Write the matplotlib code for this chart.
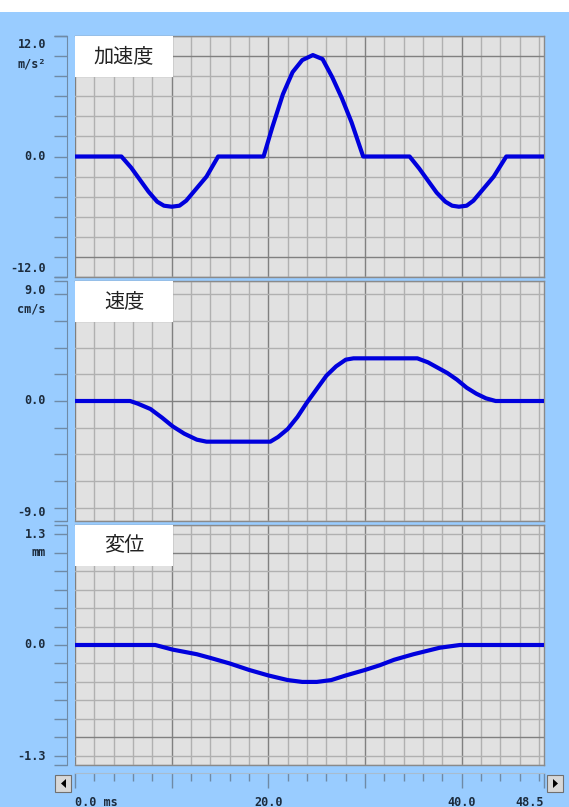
import matplotlib
matplotlib.use("Agg")
import matplotlib.pyplot as plt
from matplotlib.patches import Rectangle, Polygon
from matplotlib.ticker import MultipleLocator, FixedLocator

# ---------------- data ----------------
acc_t = [0, 4.8, 5.8, 6.7, 7.6, 8.5, 9.2, 10.0, 10.8, 11.5, 12.2, 13.6, 14.8,
         19.5, 20.4, 21.5, 22.5, 23.5, 24.6, 25.6, 26.6, 27.6, 28.6, 29.8,
         34.6, 35.6, 36.5, 37.4, 38.3, 39.0, 39.7, 40.5, 41.2, 41.9, 43.3, 44.6, 48.5]
acc_v = [0, 0, -1.1, -2.3, -3.5, -4.5, -4.9, -5.0, -4.9, -4.4, -3.6, -2.0, 0,
         0, 2.9, 6.2, 8.4, 9.6, 10.1, 9.7, 7.9, 5.8, 3.4, 0,
         0, -1.2, -2.4, -3.6, -4.5, -4.9, -5.0, -4.9, -4.4, -3.6, -2.0, 0, 0]

vel_t = [0, 5.7, 6.5, 7.8, 9.0, 10.1, 11.3, 12.6, 13.6, 14.5, 20.2, 21, 22, 23, 24,
         25, 26, 27, 28, 28.8, 35.4, 36.5, 37.5, 38.5, 39.5, 40.5, 41.5, 42.5, 43.5, 48.5]
vel_v = [0, 0, -0.2, -0.6, -1.25, -1.9, -2.45, -2.9, -3.05, -3.05, -3.05, -2.7, -2.1,
         -1.2, -0.1, 0.9, 1.9, 2.6, 3.1, 3.2, 3.2, 2.9, 2.5, 2.1, 1.6, 1.0, 0.55, 0.2, 0, 0]

disp_t = [0, 8.3, 10.1, 12.6, 14, 16, 18, 20, 22, 23.5, 25, 26.5, 28, 30, 31.5,
          33, 35, 37.7, 39.8, 48.5]
disp_v = [0, 0, -0.05, -0.10, -0.14, -0.20, -0.27, -0.33, -0.38, -0.40, -0.40,
          -0.38, -0.33, -0.27, -0.22, -0.16, -0.10, -0.03, 0, 0]

titles = ["加速度", "速度", "変位"]
units = ["m/s²", "cm/s", "mm"]
ylims = [12.0, 9.0, 1.3]
top_labels = ["12.0", "9.0", "1.3"]
bot_labels = ["-12.0", "-9.0", "-1.3"]
x_max = 48.5
x_labels = ["0.0 ms", "20.0", "40.0", "48.5"]
x_label_pos = [0, 20, 40, 48.5]

# ---------------- style ----------------
W, H = 569, 807
BG = "#99ccff"
PANEL = "#e1e1e1"
GRID_MINOR = "#b0b0b0"
GRID_MAJOR = "#808080"
LINE = "#0000dd"
TXT = "#1c2b3c"
AXC = "#6f8aa6"

fig = plt.figure(figsize=(W / 100, H / 100), dpi=100)
fig.patch.set_facecolor(BG)
fig.patches.append(Rectangle((0, 1 - 12 / H), 1, 12 / H, transform=fig.transFigure,
                             facecolor="white", edgecolor="none", zorder=0))


def px_axes(x0, y0, x1, y1):
    return fig.add_axes([x0 / W, 1 - y1 / H, (x1 - x0) / W, (y1 - y0) / H])


X0, X1 = 75, 544
panels = [(36, 277), (281, 521), (525, 765)]
series = [(acc_t, acc_v), (vel_t, vel_v), (disp_t, disp_v)]
minor_steps = [2.0, 2.0, 0.2]
major_steps = [10.0, 10.0, 1.0]

for i, (y0, y1) in enumerate(panels):
    ax = px_axes(X0, y0, X1, y1)
    ax.set_facecolor(PANEL)
    lim = ylims[i]
    ax.set_xlim(0, x_max)
    ax.set_ylim(-lim, lim)
    # grid
    ax.xaxis.set_major_locator(MultipleLocator(10))
    ax.xaxis.set_minor_locator(MultipleLocator(2))
    ms, Ms = minor_steps[i], major_steps[i]
    n = int(round(lim / ms))
    allv = [round(k * ms, 4) for k in range(-n, n + 1) if abs(k * ms) <= lim + 1e-9]
    majors = [v for v in allv if abs(round(v / Ms) * Ms - v) < 1e-6]
    minors = [v for v in allv if v not in majors] + [-lim, lim]
    ax.yaxis.set_major_locator(FixedLocator(majors))
    ax.yaxis.set_minor_locator(FixedLocator(minors))
    ax.grid(which="minor", color=GRID_MINOR, lw=1.0, zorder=1)
    ax.grid(which="major", color=GRID_MAJOR, lw=1.0, zorder=1)
    ax.set_axisbelow(True)
    ax.tick_params(axis="x", which="both", length=0, labelbottom=False)
    ax.tick_params(axis="y", which="both", length=9.5, width=1, color=AXC,
                   direction="out", labelleft=False)
    ax.spines["left"].set_position(("outward", 6))
    ax.spines["left"].set_color(AXC)
    for s in ["top", "right", "bottom"]:
        ax.spines[s].set_color("#8a8a8a")
        ax.spines[s].set_linewidth(1)

    t, v = series[i]
    ax.plot(t, v, color=LINE, lw=3.0, solid_joinstyle="round", zorder=3)

    # title box
    ax.add_patch(Rectangle((0, 1), (173 - 75) / (X1 - X0), -41 / (y1 - y0),
                           transform=ax.transAxes, facecolor="white",
                           edgecolor="none", zorder=4))
    ax.text((124 - 75) / (X1 - X0), 1 - 20.5 / (y1 - y0), titles[i],
            transform=ax.transAxes, ha="center", va="center", fontsize=14.5,
            family=["Noto Sans CJK JP", "DejaVu Sans"], color="#222222", zorder=5)

    # left labels
    lx = 46 / W
    kw = dict(ha="right", va="center", fontsize=8.5, family="DejaVu Sans Mono",
              color=TXT, fontweight="bold")
    fig.text(lx, 1 - (y0 + 9) / H, top_labels[i], **kw)
    fig.text(lx, 1 - (y0 + 28) / H, units[i], **kw)
    fig.text(lx, 1 - ((y0 + y1) / 2) / H, "0.0", **kw)
    fig.text(lx, 1 - (y1 - 9) / H, bot_labels[i], **kw)

# bottom time scale
bx = px_axes(X0, 773, X1, 792)
bx.set_facecolor("none")
bx.set_xlim(0, x_max)
bx.set_ylim(0, 1)
for s in ["left", "right", "bottom"]:
    bx.spines[s].set_visible(False)
bx.spines["top"].set_color("#a8bccf")
bx.xaxis.tick_top()
bx.xaxis.set_major_locator(FixedLocator([0, 10, 20, 30, 40, 48.5]))
bx.xaxis.set_minor_locator(MultipleLocator(2))
bx.tick_params(axis="x", which="major", direction="in", length=10.5, width=1,
               color=AXC, labeltop=False, labelbottom=False)
bx.tick_params(axis="x", which="minor", direction="in", length=5.5, width=1,
               color=AXC)
bx.set_yticks([])

for lab, pos in zip(x_labels, x_label_pos):
    px = X0 + pos / x_max * (X1 - X0)
    ha = "left" if pos == 0 else ("right" if pos == x_max else "center")
    fig.text(px / W, 1 - 802 / H, lab, ha=ha, va="center", fontsize=8.5,
             family="DejaVu Sans Mono", color=TXT, fontweight="bold")

# scroll buttons
for (bx0, pts) in [(55, [(66, 779), (66, 788), (61, 783.5)]),
                   (547, [(553, 779), (553, 788), (558, 783.5)])]:
    fig.patches.append(Rectangle((bx0 / W, 1 - 792 / H), 16 / W, 17 / H,
                                 transform=fig.transFigure, facecolor="#d8d8d8",
                                 edgecolor="#707070", lw=0.8))
    fig.patches.append(Polygon([(x / W, 1 - y / H) for x, y in pts], closed=True,
                               transform=fig.transFigure, facecolor="black",
                               edgecolor="none"))

fig.savefig("out.png", dpi=100, facecolor=fig.get_facecolor())
